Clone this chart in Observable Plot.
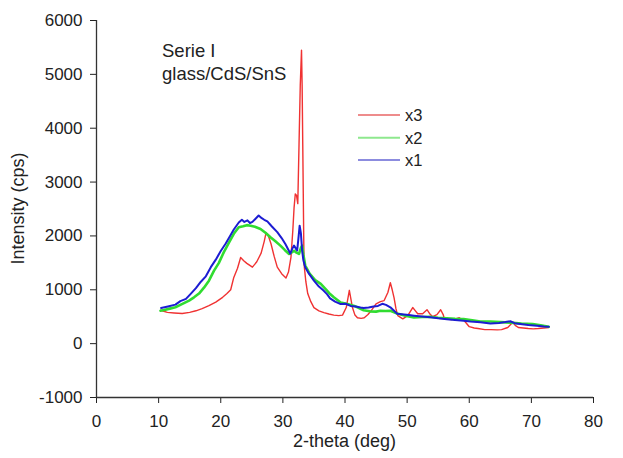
<!DOCTYPE html>
<html>
<head>
<meta charset="utf-8">
<script src="https://cdn.jsdelivr.net/npm/d3@7"></script>
<script src="https://cdn.jsdelivr.net/npm/@observablehq/plot@0.6"></script>
<style>
  html, body { margin: 0; padding: 0; background: #fff; }
  #chart { width: 623px; height: 458px; }
</style>
</head>
<body>
<div id="chart"></div>
<script>
// ---- tick labels ----
const xTicks = [0, 10, 20, 30, 40, 50, 60, 70, 80];
const yTicks = [-1000, 0, 1000, 2000, 3000, 4000, 5000, 6000];

// ---- series names ----
const seriesNames = ["x3", "x2", "x1"];
const seriesColors = ["#f03232", "#30dc30", "#1c1cd2"];
const legendColors = ["#ee8c8c", "#8ee88e", "#8c8cdf"];

// ---- x3 (red) ----
const x3Theta = [10.3,11.4,12.5,13.8,15.0,16.0,17.0,18.1,19.2,20.3,21.0,21.6,22.1,22.7,23.2,23.7,24.2,25.1,25.8,26.5,27.0,27.3,27.7,28.1,28.6,29.1,29.8,30.5,30.9,31.3,31.6,31.8,32.0,32.2,32.4,32.6,32.8,33.0,33.1,33.2,33.4,33.7,34.0,34.5,35.0,35.8,36.6,37.4,38.2,39.0,39.6,40.2,40.7,41.2,41.6,42.0,42.6,43.1,43.7,44.2,45.0,45.7,46.3,46.9,47.3,47.6,47.9,48.2,48.5,49.3,50.1,50.9,51.4,51.7,52.5,53.2,53.6,54.1,54.8,55.4,55.8,56.0,57.1,57.8,58.4,59.2,60.0,60.8,61.4,62.5,63.5,64.5,65.2,66.2,67.0,67.4,67.9,68.7,69.5,70.3,71.1,72.0,72.8];
const x3Int   = [620,580,570,560,580,610,650,705,770,860,930,1000,1230,1400,1600,1540,1490,1420,1520,1680,1900,2060,1990,1850,1620,1420,1300,1220,1330,1600,2100,2520,2780,2750,2600,3700,4800,5450,4800,3700,1480,1150,930,780,670,610,575,550,530,520,530,670,990,670,530,480,470,480,540,610,740,780,800,950,1130,1000,850,650,520,460,520,670,600,555,555,630,560,500,540,630,540,460,445,460,480,425,315,290,280,260,260,255,260,300,395,340,300,290,280,275,280,290,300];

// ---- x2 (green) ----
const x2Theta = [10.3,10.9,11.8,12.7,13.5,14.9,15.7,16.5,17.3,18.1,18.9,19.7,20.5,21.3,22.1,22.9,23.6,24.2,24.8,25.5,26.4,27.2,28.0,28.8,29.6,30.3,31.0,31.5,31.8,32.2,32.6,32.9,33.1,33.3,33.6,34.3,35.2,36.1,37.0,37.6,38.2,39.3,40.4,41.5,43.0,44.0,45.0,45.7,46.5,47.3,48.4,49.7,51.1,52.4,53.7,55.0,56.4,57.7,59.1,60.2,61.8,63.4,65.0,66.6,68.4,70.2,71.5,72.8];
const x2Int   = [610,625,650,675,720,800,860,930,1040,1170,1350,1500,1700,1870,2040,2160,2180,2200,2190,2170,2130,2060,1975,1900,1820,1740,1665,1700,1725,1690,1665,1780,1820,1650,1450,1300,1180,1110,1000,920,860,765,735,700,620,600,595,610,605,610,560,520,485,495,500,480,470,460,455,440,410,410,400,390,375,365,340,315];

// ---- x1 (blue) ----
const x1Theta = [10.4,11.5,12.7,13.5,14.4,15.2,16.0,16.8,17.6,18.4,19.2,20.0,20.8,21.5,22.1,22.9,23.4,23.8,24.3,24.7,25.1,25.6,26.1,26.6,27.0,27.5,28.2,29.1,29.8,30.4,30.9,31.2,31.5,31.8,32.1,32.3,32.5,32.7,32.9,33.1,33.3,33.6,34.2,35.0,35.8,36.5,37.1,37.6,38.4,39.3,40.1,40.9,41.7,42.5,43.0,43.8,44.6,45.3,46.0,46.6,47.3,47.9,48.4,49.5,50.3,51.1,52.4,53.7,55.0,56.4,57.7,59.1,60.2,61.8,63.4,64.8,65.8,66.6,67.3,68.2,69.5,70.9,72.0,72.8];
const x1Int   = [660,690,725,790,830,930,1030,1150,1250,1420,1560,1720,1860,2000,2120,2250,2300,2260,2290,2240,2260,2320,2380,2330,2300,2270,2180,2070,1960,1850,1740,1670,1760,1820,1760,1730,1950,2190,2050,1730,1550,1420,1300,1170,1060,990,920,840,780,735,740,700,690,670,660,670,690,700,740,720,675,610,555,540,530,520,505,490,470,455,440,425,410,395,375,385,400,415,380,365,345,330,320,315];

const toRows = (t, v) => t.map((d, i) => ({t: d, v: v[i]}));
const red = toRows(x3Theta, x3Int);
const green = toRows(x2Theta, x2Int);
const blue = toRows(x1Theta, x1Int);

const W = 623, H = 458;
const mL = 96, mR = 30, mT = 20, mB = 61;

const svg = Plot.plot({
  width: W, height: H,
  marginLeft: mL, marginRight: mR, marginTop: mT, marginBottom: mB,
  x: {domain: [0, 80]},
  y: {domain: [-1000, 6000]},
  style: {fontFamily: "'Liberation Sans', Arial, sans-serif", fontSize: "17px", color: "#222", background: "#fff"},
  marks: [
    Plot.axisX({ticks: xTicks, tickSize: 6, tickPadding: 11, label: null, tickFormat: d => String(d)}),
    Plot.axisY({ticks: yTicks, tickSize: 6, tickPadding: 8, label: null, tickFormat: d => String(d)}),
    Plot.ruleY([-1000], {stroke: "#333", strokeWidth: 1.3}),
    Plot.ruleX([0], {stroke: "#333", strokeWidth: 1.3}),
    Plot.line(red, {x: "t", y: "v", stroke: seriesColors[0], strokeWidth: 1.4}),
    Plot.line(green, {x: "t", y: "v", stroke: seriesColors[1], strokeWidth: 2.6}),
    Plot.line(blue, {x: "t", y: "v", stroke: seriesColors[2], strokeWidth: 2})
  ]
});

const s = d3.select(svg);
const font = "'Liberation Sans', Arial, sans-serif";
// axis titles
s.append("text").attr("x", (mL + W - mR) / 2).attr("y", 447)
  .attr("text-anchor", "middle").attr("font-family", font).attr("font-size", 18)
  .attr("fill", "#222").text("2-theta (deg)");
s.append("text").attr("transform", `translate(24,${(mT + H - mB) / 2}) rotate(-90)`)
  .attr("text-anchor", "middle").attr("font-family", font).attr("font-size", 18)
  .attr("fill", "#222").text("Intensity (cps)");
// annotation
s.append("text").attr("x", 162).attr("y", 57).attr("text-anchor", "start")
  .attr("font-family", font).attr("font-size", 18.5)
  .attr("fill", "#222").text("Serie I");
s.append("text").attr("x", 162).attr("y", 79.5).attr("text-anchor", "start")
  .attr("font-family", font).attr("font-size", 18.5)
  .attr("fill", "#222").text("glass/CdS/SnS");
// legend
const legY = [115, 137.7, 160];
seriesNames.forEach((n, i) => {
  s.append("line").attr("x1", 358).attr("x2", 400).attr("y1", legY[i]).attr("y2", legY[i])
    .attr("stroke", legendColors[i]).attr("stroke-width", 2);
  s.append("text").attr("x", 405).attr("y", legY[i] + 6.3).attr("text-anchor", "start")
    .attr("font-family", font).attr("font-size", 16.5).attr("fill", "#222").text(n);
});

document.getElementById("chart").appendChild(svg);
</script>
</body>
</html>
